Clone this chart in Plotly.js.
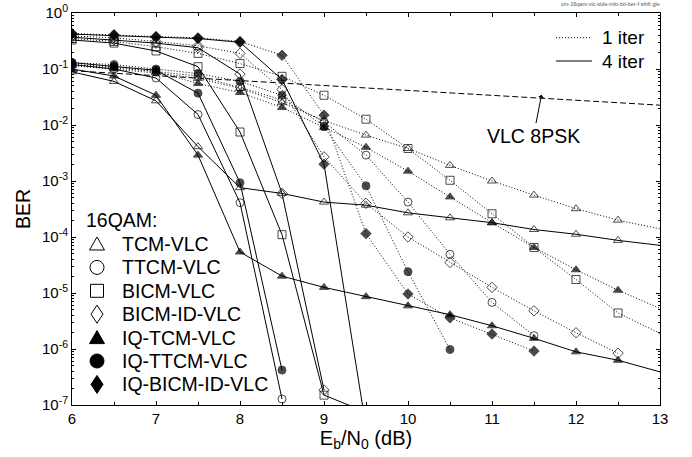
<!DOCTYPE html>
<html><head><meta charset="utf-8">
<script src="https://cdn.plot.ly/plotly-3.0.1.min.js"></script>
<style>html,body{margin:0;padding:0;background:#fff}#chart{width:692px;height:457px}</style>
</head><body><div id="chart"></div>
<script>
// Eb/N0 grid (dB); every series starts at 6 dB
const EBNO = [6, 6.5, 7, 7.5, 8, 8.5, 9, 9.5, 10, 10.5, 11, 11.5, 12, 12.5, 13];

// ---- 1 iteration (dotted) ----
const TCM_1      = [0.115, 0.1, 0.085, 0.068, 0.045, 0.025, 0.012, 0.0066, 0.0038, 0.0019, 0.001, 5.6e-4, 3.2e-4, 2.0e-4, 1.4e-4];
const TTCM_1     = [0.12, 0.11, 0.09, 0.075, 0.047, 0.028, 0.0114, 0.0029, 4.2e-4, 4.9e-5, 6.8e-6, 1.73e-6];
const BICM_1     = [0.35, 0.31, 0.25, 0.19, 0.125, 0.074, 0.034, 0.0127, 0.0038, 0.00103, 2.6e-4, 6.5e-5, 1.74e-5, 4.4e-6, 1.9e-6];
const BICMID_1   = [0.39, 0.36, 0.31, 0.26, 0.19, 0.043, 0.0027, 4.0e-4, 1.0e-4, 3.5e-5, 1.26e-5, 4.8e-6, 1.95e-6, 8.4e-7];
const IQTCM_1    = [0.12, 0.105, 0.09, 0.055, 0.038, 0.0205, 0.009, 0.004, 0.0015, 5.2e-4, 1.8e-4, 6.5e-5, 2.6e-5, 1.12e-5, 5.3e-6];
const IQTTCM_1   = [0.13, 0.12, 0.1, 0.083, 0.06, 0.034, 0.0093, 8.2e-4, 2.4e-5, 9.8e-7];
const IQBICMID_1 = [0.43, 0.41, 0.38, 0.36, 0.31, 0.176, 0.015, 1.15e-4, 9.6e-6, 3.6e-6, 1.85e-6, 9.2e-7];

// ---- 4 iterations (solid) ----
const TCM_4      = [0.089, 0.06, 0.027, 0.0041, 7.6e-4, 6.0e-4, 4.2e-4, 3.7e-4, 2.7e-4, 2.2e-4, 1.8e-4, 1.36e-4, 1.12e-4, 8.7e-5, 7.1e-5];
const TTCM_4     = [0.12, 0.1, 0.069, 0.0154, 4.1e-4, 1.28e-7];
const BICM_4     = [0.33, 0.29, 0.21, 0.11, 0.0075, 1.1e-4, 1.5e-7, 7.5e-8];
const BICMID_4   = [0.37, 0.33, 0.29, 0.24, 0.081, 6.0e-4, 1.85e-7];
const IQTCM_4    = [0.1, 0.075, 0.034, 0.0029, 5.4e-5, 2.0e-5, 1.26e-5, 8.6e-6, 5.9e-6, 4.1e-6, 2.6e-6, 1.55e-6, 8.9e-7, 6.3e-7, 3.9e-7];
const IQTTCM_4   = [0.13, 0.11, 0.095, 0.037, 9.3e-4, 4.2e-7];
const IQBICMID_4 = [0.42, 0.40, 0.37, 0.35, 0.30, 0.065, 0.002, 4e-8];

// ---- reference curve ----
const VLC8PSK_X = [6, 13];
const VLC8PSK_Y = [0.093, 0.0226];

// ---- labels ----
const SCHEME_NAMES = ['TCM-VLC', 'TTCM-VLC', 'BICM-VLC', 'BICM-ID-VLC', 'IQ-TCM-VLC', 'IQ-TTCM-VLC', 'IQ-BICM-ID-VLC'];
const ITER_NAMES = ['1 iter', '4 iter'];
const X_TICKS = [6, 7, 8, 9, 10, 11, 12, 13];
const Y_TICK_VALS = [1, 1e-1, 1e-2, 1e-3, 1e-4, 1e-5, 1e-6, 1e-7];
const Y_TICK_TEXT = ['10<sup>0</sup>', '10<sup>-1</sup>', '10<sup>-2</sup>', '10<sup>-3</sup>', '10<sup>-4</sup>', '10<sup>-5</sup>', '10<sup>-6</sup>', '10<sup>-7</sup>'];

// ---------------- drawing ----------------
const SYMBOLS = ['triangle-up-open', 'circle-open', 'square-open', 'diamond-open', 'triangle-up', 'circle', 'diamond'];
const DOT = '1px,2px';
const ONE = [TCM_1, TTCM_1, BICM_1, BICMID_1, IQTCM_1, IQTTCM_1, IQBICMID_1];
const FOUR = [TCM_4, TTCM_4, BICM_4, BICMID_4, IQTCM_4, IQTTCM_4, IQBICMID_4];
const FONT = 'Liberation Sans, Arial, Helvetica, sans-serif';

const traces = [];
traces.push({x: VLC8PSK_X, y: VLC8PSK_Y, mode: 'lines', line: {color: '#000', width: 1, dash: '6px,3px'}, showlegend: false, hoverinfo: 'skip'});
function addSeries(ys, i, dash, label) {
  const xs = EBNO.slice(0, ys.length);
  traces.push({
    x: xs, y: ys, mode: 'lines+markers', name: label,
    line: {color: '#000', width: 1, dash: dash},
    marker: {symbol: SYMBOLS[i], size: xs.map(v => v >= 13 ? 0 : 8), color: '#000', line: {color: '#000', width: 1}},
    showlegend: false
  });
}
ONE.forEach((ys, i) => addSeries(ys, i, DOT, SCHEME_NAMES[i] + ' ' + ITER_NAMES[0]));
FOUR.forEach((ys, i) => addSeries(ys, i, 'solid', SCHEME_NAMES[i] + ' ' + ITER_NAMES[1]));

// pixel -> paper helpers (plot area: x 72..660, y 13..405)
const PL = 72, PR = 660, PT = 13, PB = 405;
const fx = p => (p - PL) / (PR - PL);
const fy = p => (PB - p) / (PB - PT);

const shapes = [];
const annotations = [];

// scheme legend
const LEG_SYM_X = 97, LEG_TXT_X = 120, LEG_TITLE_Y = 220, LEG_ROW0 = 244, LEG_DY = 23.4, LEG_R = 7;
annotations.push({xref: 'paper', yref: 'paper', x: fx(84), y: fy(LEG_TITLE_Y), xanchor: 'left', yanchor: 'middle', text: '16QAM:', showarrow: false, font: {size: 19.5, family: FONT, color: '#000'}});
function pth(pts) { return 'M' + pts.map(p => fx(p[0]) + ',' + fy(p[1])).join('L') + 'Z'; }
const GEO = ['tri', 'circ', 'sq', 'dia', 'tri', 'circ', 'dia'];
SCHEME_NAMES.forEach((nm, i) => {
  const cy = LEG_ROW0 + i * LEG_DY, cx = LEG_SYM_X, r = LEG_R;
  annotations.push({xref: 'paper', yref: 'paper', x: fx(LEG_TXT_X), y: fy(cy), xanchor: 'left', yanchor: 'middle', text: nm, showarrow: false, font: {size: 19.5, family: FONT, color: '#000'}});
  const filled = i >= 4;
  const base = {xref: 'paper', yref: 'paper', line: {color: '#000', width: 1}, fillcolor: filled ? '#000' : 'rgba(0,0,0,0)'};
  const geo = GEO[i];
  if (geo === 'tri') shapes.push(Object.assign({type: 'path', path: pth([[cx - r - 0.5, cy + r - 1], [cx + r + 0.5, cy + r - 1], [cx, cy - r]])}, base));
  if (geo === 'circ') shapes.push(Object.assign({type: 'circle', x0: fx(cx - r), x1: fx(cx + r), y0: fy(cy + r), y1: fy(cy - r)}, base));
  if (geo === 'sq') shapes.push(Object.assign({type: 'rect', x0: fx(cx - r + 0.5), x1: fx(cx + r - 0.5), y0: fy(cy + r - 0.5), y1: fy(cy - r + 0.5)}, base));
  if (geo === 'dia') shapes.push(Object.assign({type: 'path', path: pth([[cx, cy - r - 2], [cx + r - 1, cy], [cx, cy + r + 2], [cx - r + 1, cy]])}, base));
});

// iteration legend
[[37.7, DOT], [61, 'solid']].forEach((row, k) => {
  shapes.push({type: 'line', xref: 'paper', yref: 'paper', x0: fx(556), x1: fx(592), y0: fy(row[0]), y1: fy(row[0]), line: {color: '#000', width: 1, dash: row[1]}});
  annotations.push({xref: 'paper', yref: 'paper', x: fx(600), y: fy(row[0]), xanchor: 'left', yanchor: 'middle', text: ITER_NAMES[k], showarrow: false, font: {size: 19, family: FONT, color: '#000'}});
});

// VLC 8PSK label with arrow
annotations.push({x: 11.59, y: Math.log10(0.0348), xref: 'x', yref: 'y', text: 'VLC 8PSK', showarrow: true, arrowhead: 1, arrowsize: 1, arrowwidth: 1, arrowcolor: '#000', ax: -8, ay: 41, font: {size: 19.5, family: FONT, color: '#000'}});

// file name tag
annotations.push({xref: 'paper', yref: 'paper', x: fx(662), y: fy(4), xanchor: 'right', yanchor: 'middle', text: 'cm-16qam-vlc-side-info-bit-ber-f-shift.gle', showarrow: false, font: {size: 5.5, family: FONT, color: '#555'}});

const MINOR_Y = [];
for (let d = -7; d < 0; d++) for (let k = 2; k <= 9; k++) MINOR_Y.push(k * Math.pow(10, d));

const layout = {
  width: 692, height: 457,
  margin: {l: PL, r: 692 - PR, t: PT, b: 457 - PB},
  paper_bgcolor: '#fff', plot_bgcolor: '#fff',
  font: {family: FONT, color: '#000'},
  showlegend: false,
  xaxis: {
    range: [6, 13], tickmode: 'array', tickvals: X_TICKS, ticks: 'inside', ticklen: 4, tickcolor: '#000',
    showline: true, linecolor: '#000', linewidth: 1, mirror: 'ticks', showgrid: false, zeroline: false,
    minor: {dtick: 0.5, tick0: 6, ticks: 'inside', ticklen: 3, tickcolor: '#000', showgrid: false},
    tickfont: {size: 15}, title: {text: 'E<sub>b</sub>/N<sub>0</sub> (dB)', font: {size: 20}, standoff: 2}
  },
  yaxis: {
    type: 'log', range: [-7, 0], tickmode: 'array', tickvals: Y_TICK_VALS, ticktext: Y_TICK_TEXT,
    ticks: 'inside', ticklen: 4, tickcolor: '#000',
    showline: true, linecolor: '#000', linewidth: 1, mirror: 'ticks', showgrid: false, zeroline: false,
    minor: {tickmode: 'array', tickvals: MINOR_Y, ticks: 'inside', ticklen: 2, tickcolor: '#000', showgrid: false},
    tickfont: {size: 15}, title: {text: 'BER', font: {size: 19.5}, standoff: 6}
  },
  shapes: shapes, annotations: annotations
};
Plotly.newPlot('chart', traces, layout, {displayModeBar: false, staticPlot: true});
</script></body></html>
